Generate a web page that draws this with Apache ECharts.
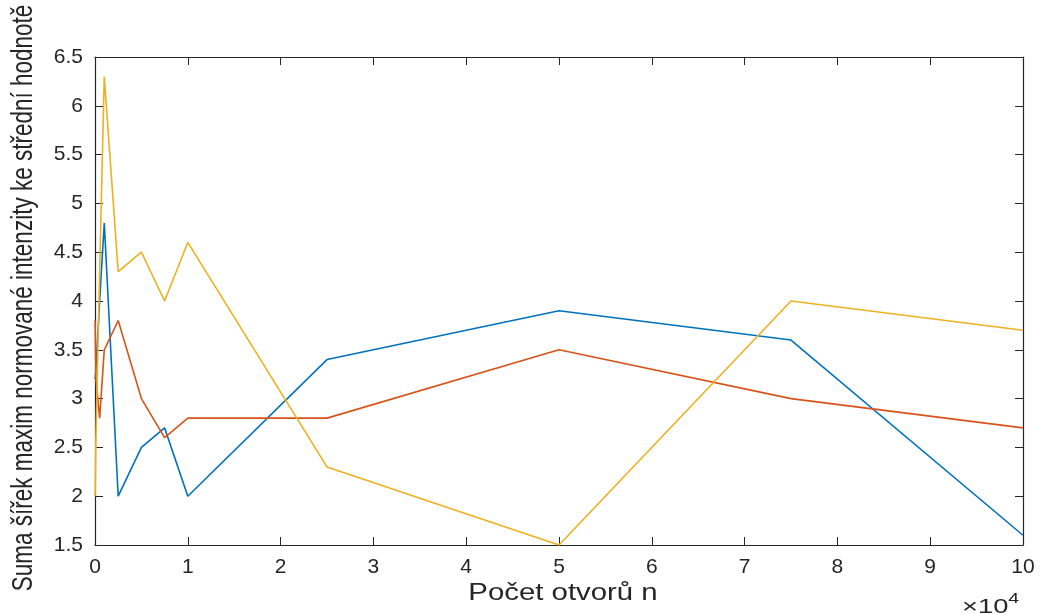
<!DOCTYPE html>
<html><head><meta charset="utf-8">
<script src="https://cdn.jsdelivr.net/npm/echarts@6/dist/echarts.min.js"></script>
<style>html,body{margin:0;padding:0;background:#fff}#c{width:1040px;height:614px}</style>
</head><body><div id="c"></div>
<script>
const xValues = [10, 100, 500, 1000, 2500, 5000, 7500, 10000, 25000, 50000, 75000, 100000];
const blueValues = [3.2, 3.3, 4.0, 4.8, 2.0, 2.5, 2.7, 2.0, 3.4, 3.9, 3.6, 1.6];
const redValues = [3.8, 3.2, 2.8, 3.5, 3.8, 3.0, 2.6, 2.8, 2.8, 3.5, 3.0, 2.7];
const yellowValues = [2.0, 2.6, 4.3, 6.3, 4.3, 4.5, 4.0, 4.6, 2.3, 1.5, 4.0, 3.7];
const yTitle = 'Suma šířek maxim normované intenzity ke střední hodnotě';
const xTitle = 'Počet otvorů n';

const font = 'Liberation Sans, Arial, sans-serif';
const axisColor = '#262626';
function pairs(v){ return xValues.map((x,i)=>[x, v[i]]); }
function mk(name, v, color){
  return {name, type:'line', data:pairs(v), symbol:'none', lineStyle:{width:1.6,color}, itemStyle:{color}, animation:false};
}
const chart = echarts.init(document.getElementById('c'), null, {renderer:'canvas'});
const baseTick = {show:true, inside:true, length:8, lineStyle:{color:axisColor, width:1}};
chart.setOption({
  backgroundColor:'#fff',
  grid:{left:95, right:17, top:57, bottom:69, containLabel:false},
  xAxis:[{
    type:'value', min:0, max:100000, interval:10000,
    axisLine:{show:true, onZero:false, lineStyle:{color:axisColor, width:1.2}},
    axisTick:baseTick,
    axisLabel:{color:axisColor, fontSize:21, fontFamily:font, margin:12, formatter:v=>String(v/10000)},
    splitLine:{show:false}
  },{
    type:'value', position:'top', min:0, max:100000, interval:10000,
    axisLine:{show:true, onZero:false, lineStyle:{color:axisColor, width:1.2}},
    axisTick:baseTick, axisLabel:{show:false}, splitLine:{show:false}
  }],
  yAxis:[{
    type:'value', min:1.5, max:6.5, interval:0.5,
    axisLine:{show:true, onZero:false, lineStyle:{color:axisColor, width:1.2}},
    axisTick:baseTick,
    axisLabel:{color:axisColor, fontSize:21, fontFamily:font, margin:12},
    splitLine:{show:false}
  },{
    type:'value', position:'right', min:1.5, max:6.5, interval:0.5,
    axisLine:{show:true, onZero:false, lineStyle:{color:axisColor, width:1.2}},
    axisTick:baseTick, axisLabel:{show:false}, splitLine:{show:false}
  }],
  series:[
    mk('s1', blueValues, '#0072BD'),
    mk('s2', redValues, '#D95319'),
    mk('s3', yellowValues, '#EDB120')
  ],
  graphic:[{
    type:'text', x:24, y:298, rotation:Math.PI/2, scaleX:1, scaleY:1.3,
    style:{text:yTitle, font:'22.5px ' + font, fill:axisColor, align:'center', verticalAlign:'middle'}
  },{
    type:'text', x:563, y:594, scaleX:1.25,
    style:{text:xTitle, font:'23.5px ' + font, fill:axisColor, align:'center', verticalAlign:'middle'}
  },{
    type:'text', x:962, y:591, scaleX:1.3,
    style:{
      text:'{a|×10}{b|4}',
      rich:{
        a:{fontSize:21, fontFamily:font, fill:axisColor, padding:[6,0,0,0]},
        b:{fontSize:15, fontFamily:font, fill:axisColor, verticalAlign:'top', padding:[0,0,10,0]}
      }
    }
  }]
});
</script></body></html>
